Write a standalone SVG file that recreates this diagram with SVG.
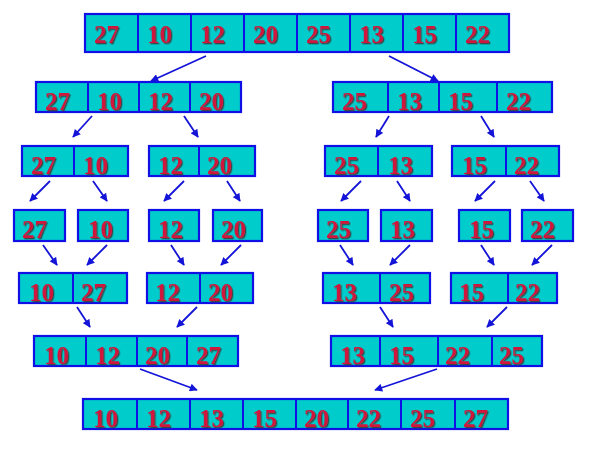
<svg xmlns="http://www.w3.org/2000/svg" width="589" height="450" viewBox="0 0 589 450">
<style>
.box{fill:#00CCCC;stroke:#1010E6;stroke-width:2.2}
.div{stroke:#1010E6;stroke-width:2}
.n{font-family:"Liberation Serif","Times New Roman",serif;font-weight:bold;font-size:25px;fill:#D0163C;filter:url(#sh)}
.arr{stroke:#1414D8;stroke-width:1.8;fill:none;marker-end:url(#ah)}
</style>
<defs>
<filter id="sh" x="-20%" y="-20%" width="140%" height="140%">
<feDropShadow dx="1.3" dy="1.3" stdDeviation="0.3" flood-color="#3a3a3a" flood-opacity="0.9"/>
</filter>
<marker id="ah" viewBox="0 0 10 10" refX="9" refY="5" markerWidth="9" markerHeight="8" markerUnits="userSpaceOnUse" orient="auto">
<path d="M0,0 L10,5 L0,10 z" fill="#1414D8"/>
</marker>
</defs>
<rect width="589" height="450" fill="#FFFFFF"/>

<g id="connectors">
<line class="arr" x1="206" y1="56" x2="151" y2="81"/>
<line class="arr" x1="389" y1="56" x2="438" y2="81"/>
<line class="arr" x1="92" y1="116" x2="73" y2="137"/>
<line class="arr" x1="184" y1="116" x2="198" y2="137"/>
<line class="arr" x1="389" y1="116" x2="376" y2="137"/>
<line class="arr" x1="481" y1="116" x2="494" y2="137"/>
<line class="arr" x1="50" y1="181" x2="30" y2="201"/>
<line class="arr" x1="93" y1="181" x2="107" y2="201"/>
<line class="arr" x1="184" y1="181" x2="164" y2="201"/>
<line class="arr" x1="227" y1="181" x2="240" y2="201"/>
<line class="arr" x1="361" y1="181" x2="341" y2="201"/>
<line class="arr" x1="397" y1="181" x2="410" y2="201"/>
<line class="arr" x1="495" y1="181" x2="475" y2="201"/>
<line class="arr" x1="530" y1="181" x2="544" y2="201"/>
<line class="arr" x1="43" y1="245" x2="57" y2="265"/>
<line class="arr" x1="107" y1="245" x2="87" y2="265"/>
<line class="arr" x1="171" y1="245" x2="184" y2="265"/>
<line class="arr" x1="241" y1="245" x2="221" y2="265"/>
<line class="arr" x1="340" y1="245" x2="353" y2="265"/>
<line class="arr" x1="410" y1="245" x2="390" y2="265"/>
<line class="arr" x1="481" y1="245" x2="494" y2="265"/>
<line class="arr" x1="552" y1="245" x2="532" y2="265"/>
<line class="arr" x1="77" y1="307" x2="90" y2="327"/>
<line class="arr" x1="197" y1="307" x2="177" y2="327"/>
<line class="arr" x1="380" y1="307" x2="393" y2="327"/>
<line class="arr" x1="507" y1="307" x2="487" y2="327"/>
<line class="arr" x1="140" y1="369" x2="197" y2="390"/>
<line class="arr" x1="437" y1="369" x2="375" y2="390"/>
</g>

<g id="r1">
<rect class="box" x="85" y="14" width="424" height="38"/>
<path class="div" d="M138,14V52M191,14V52M244,14V52M297,14V52M350,14V52M403,14V52M456,14V52"/>
<text class="n" x="94" y="43">27</text><text class="n" x="147" y="43">10</text><text class="n" x="200" y="43">12</text><text class="n" x="253" y="43">20</text><text class="n" x="306" y="43">25</text><text class="n" x="359" y="43">13</text><text class="n" x="412" y="43">15</text><text class="n" x="465" y="43">22</text>
</g>

<g id="r2l">
<rect class="box" x="36" y="82" width="205" height="30"/>
<path class="div" d="M88,82V112M139,82V112M190,82V112"/>
<text class="n" x="45" y="110">27</text><text class="n" x="97" y="110">10</text><text class="n" x="148" y="110">12</text><text class="n" x="199" y="110">20</text>
</g>
<g id="r2r">
<rect class="box" x="333" y="82" width="219" height="30"/>
<path class="div" d="M388,82V112M439,82V112M497,82V112"/>
<text class="n" x="342" y="110">25</text><text class="n" x="397" y="110">13</text><text class="n" x="448" y="110">15</text><text class="n" x="506" y="110">22</text>
</g>

<g id="r3a">
<rect class="box" x="22" y="146" width="106" height="30"/>
<path class="div" d="M74,146V176"/>
<text class="n" x="31" y="174">27</text><text class="n" x="83" y="174">10</text>
</g>
<g id="r3b">
<rect class="box" x="149" y="146" width="106" height="30"/>
<path class="div" d="M199,146V176"/>
<text class="n" x="158" y="174">12</text><text class="n" x="207" y="174">20</text>
</g>
<g id="r3c">
<rect class="box" x="325" y="146" width="107" height="30"/>
<path class="div" d="M378,146V176"/>
<text class="n" x="334" y="174">25</text><text class="n" x="388" y="174">13</text>
</g>
<g id="r3d">
<rect class="box" x="452" y="146" width="107" height="30"/>
<path class="div" d="M506,146V176"/>
<text class="n" x="462" y="174">15</text><text class="n" x="514" y="174">22</text>
</g>

<g id="r4a"><rect class="box" x="14" y="210" width="51" height="31"/><text class="n" x="22" y="238">27</text></g>
<g id="r4b"><rect class="box" x="78" y="210" width="50" height="31"/><text class="n" x="88" y="238">10</text></g>
<g id="r4c"><rect class="box" x="149" y="210" width="50" height="31"/><text class="n" x="158" y="238">12</text></g>
<g id="r4d"><rect class="box" x="213" y="210" width="49" height="31"/><text class="n" x="221" y="238">20</text></g>
<g id="r4e"><rect class="box" x="318" y="210" width="50" height="31"/><text class="n" x="326" y="238">25</text></g>
<g id="r4f"><rect class="box" x="381" y="210" width="51" height="31"/><text class="n" x="390" y="238">13</text></g>
<g id="r4g"><rect class="box" x="459" y="210" width="51" height="31"/><text class="n" x="469" y="238">15</text></g>
<g id="r4h"><rect class="box" x="522" y="210" width="51" height="31"/><text class="n" x="530" y="238">22</text></g>

<g id="r5a">
<rect class="box" x="19" y="273" width="108" height="30"/>
<path class="div" d="M73,273V303"/>
<text class="n" x="29" y="301">10</text><text class="n" x="81" y="301">27</text>
</g>
<g id="r5b">
<rect class="box" x="147" y="273" width="106" height="30"/>
<path class="div" d="M200,273V303"/>
<text class="n" x="155" y="301">12</text><text class="n" x="208" y="301">20</text>
</g>
<g id="r5c">
<rect class="box" x="323" y="273" width="107" height="30"/>
<path class="div" d="M380,273V303"/>
<text class="n" x="332" y="301">13</text><text class="n" x="389" y="301">25</text>
</g>
<g id="r5d">
<rect class="box" x="451" y="273" width="106" height="30"/>
<path class="div" d="M508,273V303"/>
<text class="n" x="459" y="301">15</text><text class="n" x="515" y="301">22</text>
</g>

<g id="r6l">
<rect class="box" x="34" y="336" width="204" height="30"/>
<path class="div" d="M86,336V366M137,336V366M187,336V366"/>
<text class="n" x="44" y="364">10</text><text class="n" x="95" y="364">12</text><text class="n" x="145" y="364">20</text><text class="n" x="196" y="364">27</text>
</g>
<g id="r6r">
<rect class="box" x="331" y="336" width="211" height="30"/>
<path class="div" d="M380,336V366M438,336V366M492,336V366"/>
<text class="n" x="340" y="364">13</text><text class="n" x="389" y="364">15</text><text class="n" x="445" y="364">22</text><text class="n" x="499" y="364">25</text>
</g>

<g id="r7">
<rect class="box" x="83" y="399" width="425" height="30"/>
<path class="div" d="M137,399V429M190,399V429M243,399V429M296,399V429M348,399V429M401,399V429M455,399V429"/>
<text class="n" x="93" y="427">10</text><text class="n" x="146" y="427">12</text><text class="n" x="199" y="427">13</text><text class="n" x="252" y="427">15</text><text class="n" x="304" y="427">20</text><text class="n" x="356" y="427">22</text><text class="n" x="410" y="427">25</text><text class="n" x="463" y="427">27</text>
</g>
</svg>
